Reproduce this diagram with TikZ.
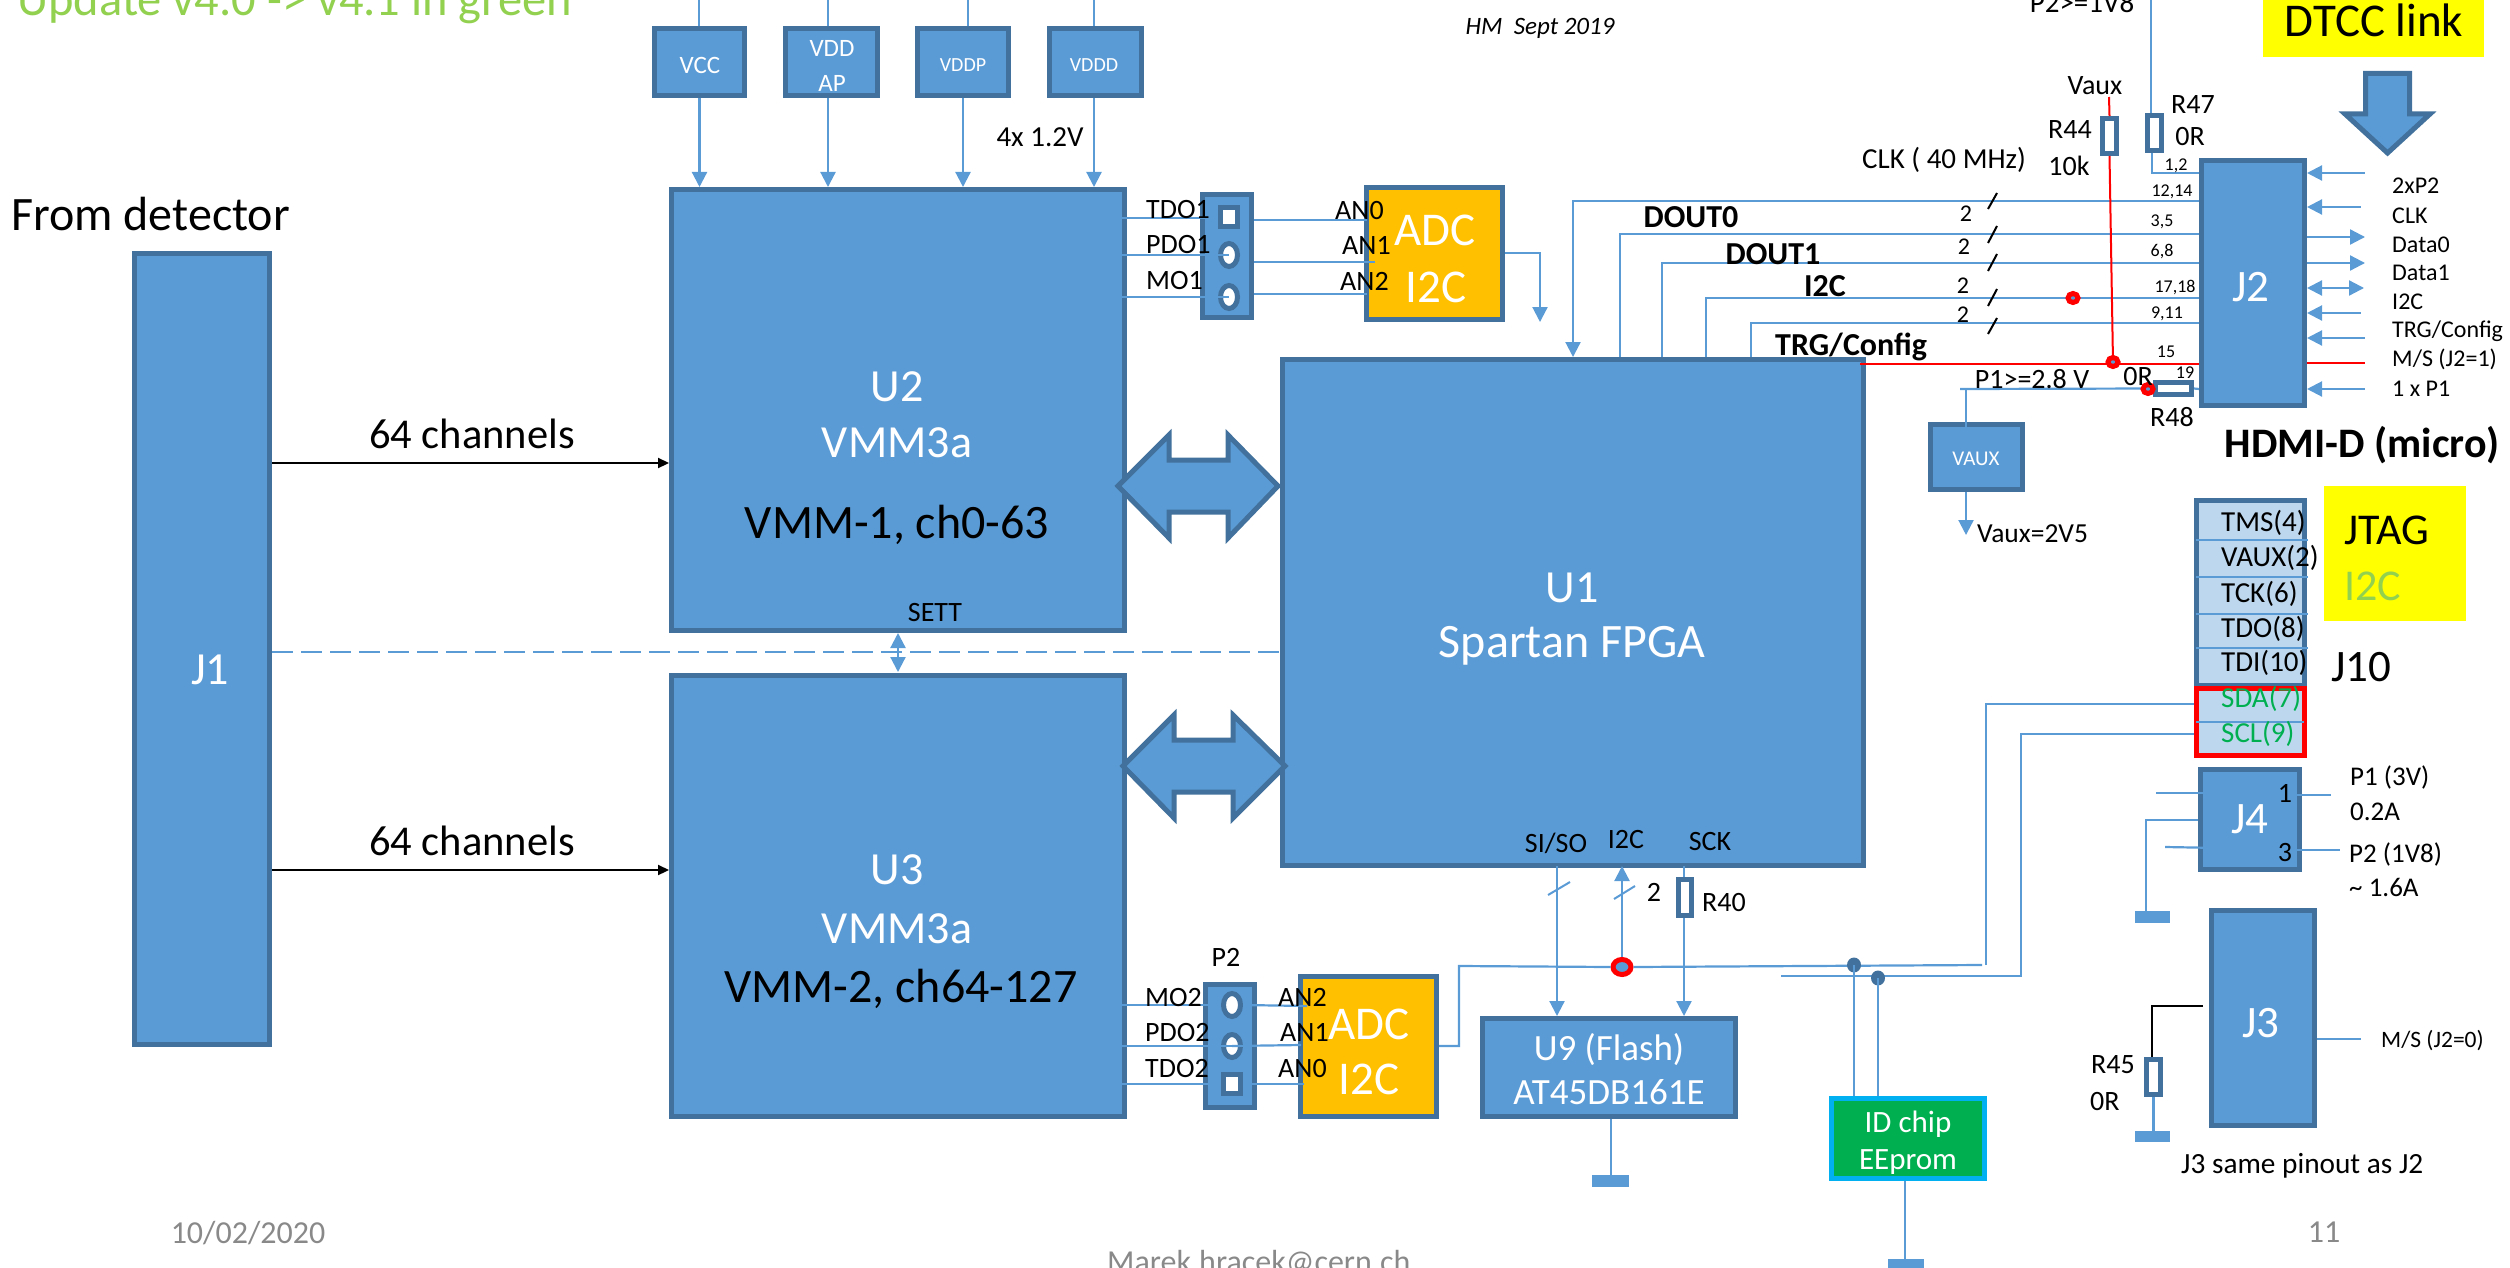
\documentclass[tikz,border=0pt]{standalone}
\usepackage{fontspec}
\setmainfont{Carlito}
\usetikzlibrary{arrows.meta,shapes.geometric}
\definecolor{bfill}{HTML}{5B9BD5}
\definecolor{bdr}{HTML}{41719C}
\definecolor{adcf}{HTML}{FFC000}
\definecolor{jlight}{HTML}{BDD7EE}
\definecolor{grn}{HTML}{00B050}
\definecolor{cya}{HTML}{00B0F0}
\definecolor{lime}{HTML}{92D050}
\definecolor{graytxt}{HTML}{898989}
\definecolor{yel}{HTML}{FFFF00}
\newcommand\fs[1]{\fontsize{#1}{#1}\selectfont}
\tikzset{
  box/.style={draw=bdr,fill=bfill,line width=5pt,inner sep=0pt,text=white,align=center},
  resbox/.style={draw=bdr,fill=white,line width=5pt,inner sep=0pt},
  gnd/.style={fill=bfill,inner sep=0pt,line width=0pt},
  yellowbox/.style={fill=yel,inner sep=0pt,line width=0pt},
  txt/.style={inner sep=0pt,text=black,yshift=-2pt},
  wire/.style={draw=bfill,line width=2.2pt},
  redwire/.style={draw=red,line width=2pt},
  blackwire/.style={draw=black,line width=2.2pt},
  tick/.style={draw=black,line width=2pt},
  bluetick/.style={draw=bfill,line width=2pt},
  ar/.style={wire,-{Triangle[length=15pt,width=15pt]}},
  arb/.style={wire,{Triangle[length=15pt,width=15pt]}-{Triangle[length=15pt,width=15pt]}},
  arl/.style={wire,{Triangle[length=15pt,width=15pt]}-},
  blackar/.style={blackwire,-{Triangle[length=11pt,width=10pt]}},
  bigarrow/.style={draw=bdr,fill=bfill,line width=5pt,miter limit=10},
  pinel/.style={ellipse,draw=bdr,fill=white,line width=5pt,inner sep=0pt,minimum width=17pt,minimum height=23pt},
  pinsq/.style={rectangle,draw=bdr,fill=white,line width=5pt,inner sep=0pt,minimum width=17pt,minimum height=19pt},
  reddot/.style={ellipse,draw=red,fill=bfill,line width=5pt,inner sep=0pt,minimum width=10pt,minimum height=9pt},
  darkdot/.style={ellipse,fill=bdr,inner sep=0pt,minimum width=14pt,minimum height=15pt},
}
% [options]{name}{x1}{y1}{x2}{y2}{text}
\newcommand\blk[7][]{%
  \pgfmathsetmacro\bcx{(#3+#5)/2}\pgfmathsetmacro\bcy{(#4+#6)/2}%
  \pgfmathsetmacro\bw{#5-#3-5}\pgfmathsetmacro\bh{#6-#4-5}%
  \node[box,minimum width=\bw pt,minimum height=\bh pt,#1] (#2) at (\bcx,\bcy) {#7};}
% [options]{name}{x}{y}{size}{text}
\newcommand\lab[6][]{\node[txt,font=\fs{#5},#1] (#2) at (#3,#4) {#6};}
\begin{document}
\begin{tikzpicture}[x=1pt,y=-1pt]
\useasboundingbox (0,0) rectangle (2510,1268);
\clip (0,0) rectangle (2510,1268);

% --- blocks
\blk{J1}{132}{251}{272}{1047}{}
\blk{U2}{669}{187}{1127}{633}{}
\blk{U3}{669}{673}{1127}{1119}{}
\blk{U1}{1280}{357}{1866}{868}{}
\blk{VCC}{652}{26}{747}{98}{}
\blk{VDDAP}{783}{26}{880}{98}{}
\blk{VDDP}{915}{26}{1011}{98}{}
\blk{VDDD}{1047}{26}{1144}{98}{}
\blk{Pa}{1200}{192}{1254}{320}{}
\blk{Pb}{1203}{982}{1257}{1110}{}
\blk[fill=adcf]{ADCa}{1364}{185}{1505}{322}{}
\blk[fill=adcf]{ADCb}{1298}{974}{1439}{1119}{}
\blk{J2}{2199}{158}{2307}{408}{}
\blk{VAUX}{1928}{422}{2025}{492}{}
\blk[fill=jlight]{J10}{2194}{498}{2307}{688}{}
\blk[fill=jlight,draw=red]{REDBOX}{2194}{686}{2307}{758}{}
\blk[font=\fs{45}]{J4}{2198}{767}{2302}{872}{J4}
\blk{J3}{2209}{908}{2317}{1128}{}
\blk{U9}{1480}{1016}{1738}{1119}{}
\blk[fill=grn,draw=cya]{ID}{1829}{1096}{1987}{1181}{}

\node[yellowbox,minimum width=221pt,minimum height=68pt] (DTCC) at (2373.5,23) {};
\node[yellowbox,minimum width=142pt,minimum height=135pt] (JTAGBOX) at (2395,553.5) {};

% --- ground bars
\node[gnd,minimum width=37pt,minimum height=12pt] (gU9) at (1610.5,1181) {};
\node[gnd,minimum width=36pt,minimum height=14pt] (gID) at (1906,1266) {};
\node[gnd,minimum width=35pt,minimum height=12pt] (gJ4) at (2152.5,917) {};
\node[gnd,minimum width=35pt,minimum height=11pt] (gR45) at (2152.5,1136.5) {};

% --- supply lines
\coordinate (tVCC) at (699,-5);
\coordinate (tVDDAP) at (828,-5);
\coordinate (tVDDP) at (968,-5);
\coordinate (tVDDD) at (1094,-5);
\draw[wire] (tVCC) -- (tVCC |- VCC.north);
\draw[wire] (tVDDAP) -- (tVDDAP |- VDDAP.north);
\draw[wire] (tVDDP) -- (tVDDP |- VDDP.north);
\draw[wire] (tVDDD) -- (tVDDD |- VDDD.north);
\draw[ar] (VCC.south) -- (VCC.south |- U2.north);
\draw[ar] (828,98) -- (828,187);
\draw[ar] (VDDP.south) -- (VDDP.south |- U2.north);
\draw[ar] (1094,98) -- (1094,187);

% --- channels
\draw[blackar] (J1.east |- 0,463) -- (U2.west |- 0,463);
\draw[blackar] (J1.east |- 0,870) -- (U3.west |- 0,870);
\draw[wire,dash pattern=on 21pt off 8pt] (J1.east |- 0,652) -- (U1.west |- 0,652);
\draw[arb] (898,633) -- (898,672);

% --- big double arrows
\draw[bigarrow] (1118,486) -- (1169,435) -- (1169,460) -- (1228,460) -- (1228,435) -- (1278,486) -- (1228,538) -- (1228,512) -- (1169,512) -- (1169,538) -- cycle;
\draw[bigarrow] (1123,766) -- (1174,715) -- (1174,740) -- (1233,740) -- (1233,715) -- (1285,766) -- (1233,818) -- (1233,792) -- (1174,792) -- (1174,818) -- cycle;
% --- big down arrow
\draw[bigarrow] (2365.5,73.5) -- (2409.5,73.5) -- (2409.5,114) -- (2430,114) -- (2387.5,153) -- (2345,114) -- (2365.5,114) -- cycle;

% --- connector 1 pins and wires
\node[pinsq] (Pa1) at (1229,217) {};
\node[pinel] (Pa2) at (1229,255) {};
\node[pinel] (Pa3) at (1229,297) {};
\draw[wire] (1093,218) -- (Pa1.west |- 0,218);
\draw[wire] (1103,255) -- (Pa2.center);
\draw[wire] (1093,297) -- (Pa3.center);
\draw[wire] (Pa.east |- 0,220) -- (1367,220);
\draw[wire] (Pa.east |- 0,262) -- (1375,262);
\draw[wire] (Pa.east |- 0,294) -- (1367,294);
\coordinate (adcaOut) at (1540,253);
\coordinate (adcaEnd) at (1540,322);
\draw[ar] (ADCa.east |- adcaOut) -- (adcaOut) -- (adcaEnd);

% --- connector 2 pins and wires
\node[pinel] (Pb1) at (1232,1005) {};
\node[pinel] (Pb2) at (1232,1046) {};
\node[pinsq] (Pb3) at (1232,1084) {};
\draw[wire] (1100,1005) -- (Pb1.west);
\draw[wire] (1106,1046) -- (Pb2.center);
\draw[wire] (1100,1084) -- (Pb3.west);
\draw[wire] (Pb1.east) -- (1307,1006);
\draw[wire] (Pb2.center) -- (1301,1045);
\draw[wire] (Pb3.east) -- (1304,1084);

% --- U1 to J2 buses
\draw[ar] (J2.west |- 0,201) -| (U1.north);
\coordinate (d0) at (1620,234);
\coordinate (d1) at (1662,263);
\coordinate (i2) at (1706,298);
\coordinate (tr) at (1751,323);
\draw[wire] (J2.west |- d0) -- (d0) -- (d0 |- U1.north);
\draw[wire] (J2.west |- d1) -- (d1) -- (d1 |- U1.north);
\draw[wire] (J2.west |- i2) -- (i2) -- (i2 |- U1.north);
\draw[wire] (J2.west |- tr) -- (tr) -- (tr |- U1.north);
\draw[tick] (1988,209) -- (1997,193);
\draw[tick] (1988,243) -- (1997,226);
\draw[tick] (1988,271) -- (1997,254);
\draw[tick] (1988,306) -- (1997,289);
\draw[tick] (1988,334) -- (1997,318);

% --- R44, R47, red lines
\node[resbox,minimum width=14pt,minimum height=35pt] (R44) at (2109.5,136) {};
\node[resbox,minimum width=14pt,minimum height=35pt] (R47) at (2154.5,133) {};
\node[resbox,minimum width=36pt,minimum height=12pt] (R48) at (2173.5,388.5) {};
\coordinate (vauxTop) at (2109,97);
\coordinate (redJ) at (2113,363);
\coordinate (redL) at (1860,363.5);
\coordinate (p2top) at (2151,-5);
\coordinate (r47c) at (2152,173);
\draw[redwire] (vauxTop) -- (R44.north);
\draw[redwire] (R44.south) -- (redJ);
\draw[redwire] (redL) -- (J2.west |- redL);
\draw[wire] (p2top) -- (p2top |- R47.north);
\draw[wire] (r47c |- R47.south) -- (r47c) -- (J2.west |- r47c);
\coordinate (p1L) at (1960,389);
\draw[wire] (p1L) -- (R48.west);
\draw[wire] (R48.east) -- (J2.west |- p1L);
\draw[wire] (1966,389) -- (1966,427);
\draw[wire,-{Triangle[length=15pt,width=15pt]}] (1966,492) -- (1966,535);
\node[reddot] (rd1) at (2073,298) {};
\node[reddot] (rd2) at (2113,362) {};
\node[reddot] (rd3) at (2148,389) {};

% --- J2 right arrows
\draw[arl] (J2.east |- 0,173) -- (2365,173);
\draw[arl] (J2.east |- 0,207) -- (2361,207);
\draw[ar]  (J2.east |- 0,237) -- (2365,237);
\draw[ar]  (J2.east |- 0,263) -- (2365,263);
\draw[arb] (J2.east |- 0,288) -- (2364,288);
\draw[arl] (J2.east |- 0,313) -- (2361,313);
\draw[arl] (J2.east |- 0,338) -- (2365,338);
\draw[redwire] (J2.east |- 0,363) -- (2365,363);
\draw[arl] (J2.east |- 0,389) -- (2365,389);

% --- bottom of U1
\draw[ar] (1557,866) -- (1557,0 |- U9.north);
\node[reddot,minimum width=18pt,minimum height=15pt] (rdI) at (1622,967) {};
\draw[ar] (rdI.north) -- (1622,866);
\draw[bluetick] (1548,895) -- (1570,882);
\draw[bluetick] (1614,899) -- (1635,886);
\node[resbox,minimum width=13pt,minimum height=36pt] (R40) at (1685,897.5) {};
\draw[wire] (1684,866) -- (R40.north -| 1684,0);
\draw[ar] (R40.south -| 1684,0) -- (1684,0 |- U9.north);
\draw[wire] (U9.south -| 1611,0) -- (gU9.north -| 1611,0);

% --- I2C bus
\coordinate (busA) at (1459,1046);
\coordinate (busB) at (1459,966);
\coordinate (busC) at (1982,965);
\coordinate (busD) at (1986,704);
\coordinate (busE) at (1986,965);
\coordinate (bus2A) at (1781,976);
\coordinate (bus2B) at (2021,976);
\coordinate (bus2C) at (2021,734);
\draw[wire] (ADCb.east |- busA) -- (busA) -- (busB) -- (rdI.west);
\draw[wire] (rdI.east) -- (busC);
\draw[wire] (busE) -- (busD) -- (REDBOX.west |- busD);
\draw[wire] (bus2A) -- (bus2B) -- (bus2C) -- (REDBOX.west |- bus2C);
\node[darkdot] (dA) at (1854,965) {};
\node[darkdot] (dB) at (1878,978) {};
\draw[wire] (dA.center) -- (dA.center |- ID.north);
\draw[wire] (dB.center) -- (dB.center |- ID.north);
\draw[wire] (ID.south -| 1905,0) -- (gID.north -| 1905,0);

% --- J10 separators
\draw[wire,line width=2pt] (2196,540) -- (2308,540);
\draw[wire,line width=2pt] (2196,577) -- (2308,577);
\draw[wire,line width=2pt] (2196,614) -- (2308,614);
\draw[wire,line width=2pt] (2196,648) -- (2308,648);
\draw[wire,line width=2pt] (2196,722) -- (2304,722);

% --- J4, J3, R45
\draw[wire] (2156,793) -- (2275,793);
\draw[wire] (2295,795) -- (2331,795);
\draw[wire] (2165,847) -- (2275,849);
\draw[wire] (2295,850) -- (2340,850);
\coordinate (j4c) at (2146,820);
\draw[wire] (J4.west |- j4c) -- (j4c) -- (j4c |- gJ4.north);
\draw[wire] (J3.east |- 0,1039) -- (2361,1039);
\node[resbox,minimum width=14pt,minimum height=35pt] (R45) at (2153.5,1077) {};
\coordinate (j3c) at (2152,1006);
\draw[blackwire] (2203,1006) -- (j3c) -- (j3c |- R45.north);
\draw[wire] (R45.south) -- (R45.south |- gR45.north);

% --- texts
\lab[anchor=west,text=lime]{tUpdate}{17}{1}{48.5}{Update v4.0 -> v4.1 in green}
\lab[anchor=west]{tFrom}{11}{212}{48}{From detector}
\lab{t4x}{1040}{135}{29}{4x 1.2V}
\lab{tCh1}{472}{432}{42.5}{64 channels}
\lab{tCh2}{472}{839}{42.5}{64 channels}
\lab{tSETT}{935}{611}{28}{SETT}
\lab[text=white]{tU2a}{897}{385}{46}{U2}
\lab[text=white]{tU2b}{897}{441}{46}{VMM3a}
\lab{tU2c}{897}{523}{48}{VMM-1, ch0-63}
\lab[text=white]{tU3a}{897}{868}{46}{U3}
\lab[text=white]{tU3b}{897}{927}{46}{VMM3a}
\lab{tU3c}{901}{987}{48}{VMM-2, ch64-127}
\lab[text=white]{tU1a}{1572}{586}{46}{U1}
\lab[text=white]{tU1b}{1572}{644}{48}{Spartan FPGA}
\lab[text=white]{tJ1}{210}{668}{46}{J1}
\lab[text=white]{tJ2}{2251}{285}{45}{J2}
\lab[text=white]{tJ3}{2261}{1021}{45}{J3}
\lab[text=white]{tVCC}{700}{63}{25}{VCC}
\lab[text=white]{tVDD}{832}{46}{25}{VDD}
\lab[text=white]{tAP}{832}{81}{25}{AP}
\lab[text=white]{tVDDP}{963}{63}{20}{VDDP}
\lab[text=white]{tVDDD}{1094}{63}{20}{VDDD}
\lab[text=white]{tVAUX}{1976}{457}{21}{VAUX}
\lab[anchor=west]{tTDO1}{1146}{208}{28}{TDO1}
\lab[anchor=west]{tPDO1}{1146}{243}{28}{PDO1}
\lab[anchor=west]{tMO1}{1146}{279}{28}{MO1}
\lab[anchor=west]{tANa0}{1335}{209}{28}{AN0}
\lab[anchor=west]{tANa1}{1342}{243}{28}{AN1}
\lab[anchor=west]{tANa2}{1340}{279}{28}{AN2}
\lab[text=white]{tADCa1}{1435}{228}{47}{ADC}
\lab[text=white]{tADCa2}{1436}{285}{47}{I2C}
\lab[text=white]{tADCb1}{1369}{1022}{47}{ADC}
\lab[text=white]{tADCb2}{1369}{1077}{47}{I2C}
\lab{tP2}{1226}{955}{28}{P2}
\lab[anchor=west]{tMO2}{1145}{995}{28}{MO2}
\lab[anchor=west]{tPDO2}{1145}{1030}{28}{PDO2}
\lab[anchor=west]{tTDO2}{1145}{1066}{28}{TDO2}
\lab[anchor=west]{tANb2}{1278}{995}{28}{AN2}
\lab[anchor=west]{tANb1}{1280}{1030}{28}{AN1}
\lab[anchor=west]{tANb0}{1278}{1066}{28}{AN0}
\node[txt,font=\bfseries\fs{32}] (tD0) at (1691,215) {DOUT0};
\node[txt,font=\bfseries\fs{32}] (tD1) at (1773,252) {DOUT1};
\node[txt,font=\bfseries\fs{32}] (tI2C) at (1825,284) {I2C};
\node[txt,font=\bfseries\fs{32},anchor=west] (tTRG) at (1775,345) {TRG/Config};
\lab{tCLKm}{1944}{158}{29}{CLK ( 40 MHz)}
\lab[font=\fs{47}]{tDTCC}{2374}{18}{47}{DTCC link}
\lab{tVaux}{2095}{84}{28}{Vaux}
\lab{tR44}{2070}{128}{28}{R44}
\lab{t10k}{2069}{164}{28}{10k}
\lab{tR47}{2193}{103}{28}{R47}
\lab{t0Ra}{2190}{135}{28}{0R}
\lab{tP2v}{2082}{1}{29}{P2>=1V8}
\lab{tn1}{1966}{212}{24}{2}
\lab{tn2}{1964}{245}{24}{2}
\lab{tn3}{1963}{284}{24}{2}
\lab{tn4}{1963}{313}{24}{2}
\lab{tp12}{2176}{164}{18}{1,2}
\lab{tp1214}{2172}{190}{18}{12,14}
\lab{tp35}{2162}{220}{18}{3,5}
\lab{tp68}{2162}{250}{18}{6,8}
\lab{tp1718}{2175}{286}{18}{17,18}
\lab{tp911}{2167}{312}{18}{9,11}
\lab{tp15}{2166}{350}{18}{15}
\lab{tp19}{2185}{371}{18}{19}
\lab{tP1v}{2032}{377}{28}{P1>=2.8 V}
\lab{t0Rb}{2138}{375}{28}{0R}
\lab{tR48}{2172}{415}{28}{R48}
\node[txt,font=\bfseries\fs{42}] (tHDMI) at (2362,443) {HDMI-D (micro)};
\lab[anchor=west]{tV25}{1977}{532}{27.5}{Vaux=2V5}
\lab[anchor=west]{ta1}{2392}{184}{24}{2xP2}
\lab[anchor=west]{ta2}{2392}{214}{24}{CLK}
\lab[anchor=west]{ta3}{2392}{243}{24}{Data0}
\lab[anchor=west]{ta4}{2392}{271}{24}{Data1}
\lab[anchor=west]{ta5}{2392}{300}{24}{I2C}
\lab[anchor=west]{ta6}{2392}{329}{24}{TRG/Config}
\lab[anchor=west]{ta7}{2392}{357}{24}{M/S (J2=1)}
\lab[anchor=west]{ta8}{2392}{387}{24}{1 x P1}
\lab[anchor=west]{tTMS}{2221}{521}{29}{TMS(4)}
\lab[anchor=west]{tVA}{2221}{556}{29}{VAUX(2)}
\lab[anchor=west]{tTCK}{2221}{592}{29}{TCK(6)}
\lab[anchor=west]{tTDO}{2221}{627}{29}{TDO(8)}
\lab[anchor=west]{tTDI}{2221}{661}{29}{TDI(10)}
\lab[anchor=west,text=grn]{tSDA}{2221}{697}{29}{SDA(7)}
\lab[anchor=west,text=grn]{tSCL}{2221}{732}{29}{SCL(9)}
\lab[anchor=west]{tJTAG}{2344}{528}{44}{JTAG}
\lab[anchor=west,text=lime]{tI2Cj}{2344}{584}{44}{I2C}
\lab[anchor=west]{tJ10}{2331}{665}{45}{J10}
\lab{t1}{2285}{791}{28}{1}
\lab{t3}{2285}{851}{28}{3}
\lab[anchor=west]{tP1a}{2350}{775}{27}{P1 (3V)}
\lab[anchor=west]{tP1b}{2350}{810}{27}{0.2A}
\lab[anchor=west]{tP2a}{2349}{852}{27}{P2 (1V8)}
\lab[anchor=west]{tP2b}{2349}{885}{27}{\textasciitilde{} 1.6A}
\lab[anchor=west]{tMS}{2381}{1039}{23.5}{M/S (J2=0)}
\lab[anchor=west]{tR45}{2091}{1063}{28}{R45}
\lab[anchor=west]{t0Rc}{2090}{1099}{28}{0R}
\lab[anchor=west]{tSame}{2181}{1164}{29.3}{J3 same pinout as J2}
\lab{tSISO}{1556}{841}{28}{SI/SO}
\lab{tI2Cb}{1626}{838}{28}{I2C}
\lab{tSCK}{1710}{840}{28}{SCK}
\lab{tn2b}{1654}{890}{28}{2}
\lab{tR40}{1724}{901}{28}{R40}
\lab[text=white]{tU9a}{1609}{1048}{37}{U9 (Flash)}
\lab[text=white]{tU9b}{1609}{1090}{37}{AT45DB161E}
\lab[text=white]{tIDa}{1908}{1122}{31}{ID chip}
\lab[text=white]{tIDb}{1908}{1160}{31}{EEprom}
\node[txt,font=\itshape\fs{25}] (tHM) at (1540,26) {HM~~Sept 2019};
\lab[text=graytxt]{tDate}{248}{1231}{32}{10/02/2020}
\lab[text=graytxt,anchor=base west]{tMail}{1107}{1270}{32}{Marek.hracek@cern.ch}
\lab[text=graytxt]{tPage}{2324}{1230}{32}{11}
\end{tikzpicture}
\end{document}
